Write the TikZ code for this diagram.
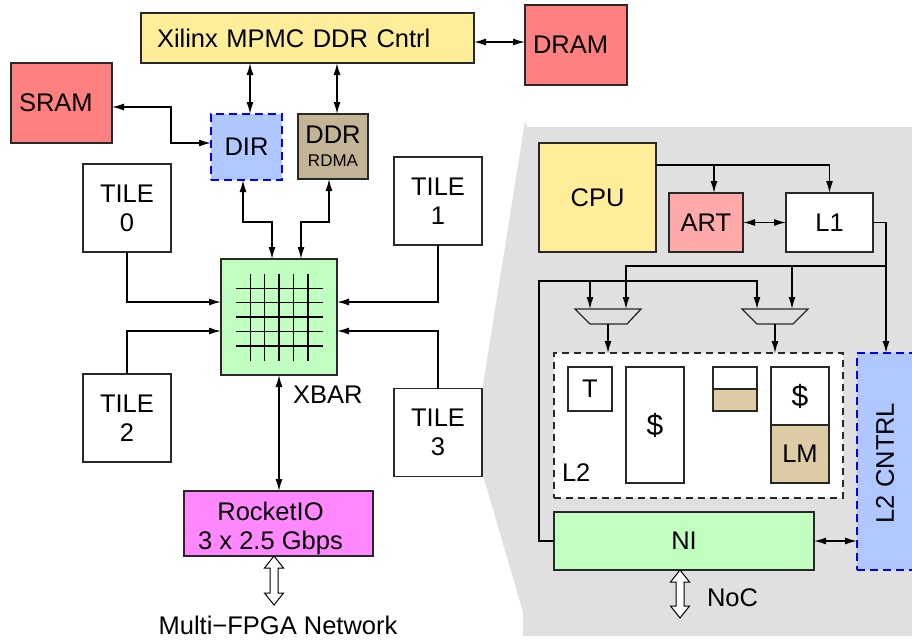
\documentclass[tikz,border=0pt]{standalone}
\usepackage{fontspec}
\setmainfont{Liberation Sans}
\usetikzlibrary{arrows.meta}
\definecolor{xyellow}{RGB}{255,238,153}
\definecolor{xred}{RGB}{255,128,128}
\definecolor{xpink}{RGB}{255,170,170}
\definecolor{xblue}{RGB}{176,200,255}
\definecolor{xtan}{RGB}{196,180,150}
\definecolor{xtanlight}{RGB}{221,203,166}
\definecolor{xgreen}{RGB}{192,255,192}
\definecolor{xmagenta}{RGB}{255,136,255}
\definecolor{xgray}{RGB}{224,224,224}
\definecolor{xline}{RGB}{40,40,40}
\begin{document}
\begin{tikzpicture}[x=1pt,y=-1pt,
  font=\fontsize{25.5}{29}\selectfont,
  blk/.style={draw=xline, line width=1.3pt, inner sep=0pt, outer sep=0pt, align=center},
  wire/.style={line width=1.4pt, draw=black},
  arr/.style={wire, -{Latex[length=12pt,width=7pt]}},
  darr/.style={wire, {Latex[length=12pt,width=7pt]}-{Latex[length=12pt,width=7pt]}},
  dashblue/.style={draw=blue, line width=2.2pt, dash pattern=on 8pt off 5pt},
  dashgray/.style={draw=xline, line width=1.3pt, dash pattern=on 7pt off 5pt},
  hollow/.style={draw=black, line width=1pt, fill=white, line join=miter},
  muxshape/.style={draw=xline, line width=1.3pt, fill=xgray},
  plain/.style={inner sep=0pt, outer sep=0pt},
]
\useasboundingbox (0,0) rectangle (912,641);

% grey tile-detail background
\fill[xgray] (525,121) -- (527,127) -- (915,127) -- (915,636) -- (523,636)
  -- (523,612) -- (482,472) -- (483,385) -- cycle;

% ---------- system level ----------
\node[blk, fill=xyellow, minimum height=50pt, text width=301pt, inner xsep=16pt, align=left]
  (xil) at (307.5,38) {Xilinx MPMC DDR Cntrl};
\node[blk, fill=xred, minimum height=80pt, text width=86pt, inner xsep=8pt, align=left]
  (dram) at (576,45) {DRAM};
\node[blk, fill=xred, minimum height=80pt, text width=85pt, inner xsep=8pt, align=left]
  (sram) at (61.5,103) {SRAM};
\node[blk, fill=xblue, dashblue, minimum width=71pt, minimum height=66pt]
  (dir) at (246.5,147) {DIR};
\node[blk, fill=xtan, minimum width=70pt, minimum height=65pt]
  (ddr) at (333,146.5) {DDR\\[-6pt]{\fontsize{17}{18}\selectfont RDMA}};

\node[blk, fill=xgreen, minimum size=116pt] (xbar) at (279,317) {};
\foreach \d in {-28.8,-14.4,0,14.4,28.8} {
  \draw[wire] ([xshift=\d pt, yshift=43.5pt]xbar.center) -- ([xshift=\d pt, yshift=-43.5pt]xbar.center);
  \draw[wire] ([yshift=\d pt, xshift=-43.5pt]xbar.center) -- ([yshift=\d pt, xshift=43.5pt]xbar.center);
}
\node[plain, anchor=west] (xbarlbl) at (293,395) {XBAR};

\node[blk, fill=white, minimum size=88pt] (tile0) at (127,208) {TILE\\0};
\node[blk, fill=white, minimum size=88pt] (tile1) at (438,201) {TILE\\1};
\node[blk, fill=white, minimum size=88pt] (tile2) at (127,418) {TILE\\2};
\node[blk, fill=white, minimum size=88pt] (tile3) at (438,432.5) {TILE\\3};

\node[blk, fill=xmagenta, minimum width=189pt, minimum height=65pt] (rio) at (278.5,523.5) {};
\node[plain, align=center] (riotext) at ([xshift=-8pt, yshift=-5pt]rio.center) {RocketIO\\3 x 2.5 Gbps};
\node[plain] (mfn) at (278,625.5) {Multi−FPGA Network};

% system level connections
\path ([yshift=-4pt]xil.east) coordinate (xilE);
\draw[darr] (xilE) -- (xilE -| dram.west);
\path ([xshift=3.5pt]dir.north) coordinate (dirN);
\draw[darr] (dirN |- xil.south) -- (dirN);
\path ([xshift=4pt]ddr.north) coordinate (ddrN);
\draw[darr] (ddrN |- xil.south) -- (ddrN);
\draw[darr] ([yshift=-4pt]sram.east) -- ++(59,0) |- ([yshift=4pt]dir.west);
\draw[darr] ([xshift=-3.5pt]dir.south) -- ++(0,42) -| ([xshift=-7pt]xbar.north);
\draw[darr] ([xshift=-4pt]ddr.south) -- ++(0,43) -| ([xshift=22pt]xbar.north);
\draw[arr] (tile0.south) |- ([yshift=15pt]xbar.west);
\draw[arr] (tile1.south) |- ([yshift=15pt]xbar.east);
\draw[arr] (tile2.north) |- ([yshift=-14pt]xbar.west);
\draw[arr] (tile3.north) |- ([yshift=-14pt]xbar.east);
\draw[darr] (xbar.south) -- (xbar.south |- rio.north);
\path ([xshift=-4.5pt]rio.south) coordinate (mfTop);
\draw[hollow] (mfTop) -- ++(9.5,12) -- ++(-5.5,0) -- ++(0,25) -- ++(5.5,0) -- ++(-9.5,12)
  -- ++(-9.5,-12) -- ++(5.5,0) -- ++(0,-25) -- ++(-5.5,0) -- cycle;

% ---------- tile detail ----------
\node[blk, fill=xyellow, minimum width=117pt, minimum height=109pt] (cpu) at (597.5,197.5) {CPU};
\node[blk, fill=xpink, minimum width=74pt, minimum height=59pt] (art) at (706,222.5) {ART};
\node[blk, fill=white, minimum width=87pt, minimum height=59pt] (l1) at (829.5,222.5) {L1};

\node[plain, fill=white, dashgray, minimum width=289pt, minimum height=145pt] (l2) at (698.5,425.5) {};
\node[plain, anchor=west] (l2lbl) at (562,473) {L2};
\node[blk, fill=white, minimum size=44pt] (tbox) at (590,389) {T};
\node[blk, fill=white, minimum width=58pt, minimum height=116pt, font=\fontsize{30}{34}\selectfont]
  (cacheA) at (655,425) {\$};
\node[blk, fill=white, minimum size=44pt] (buf) at (735,389) {};
\draw[draw=xline, line width=1.3pt, fill=xtanlight] (buf.west) rectangle (buf.south east);
\node[blk, fill=white, minimum width=58pt, minimum height=58pt, font=\fontsize{30}{34}\selectfont]
  (cacheB) at (800,396) {\$};
\node[blk, fill=xtanlight, minimum width=58pt, minimum height=58pt] (lm) at (800,454) {LM};

\node[blk, fill=xgreen, minimum width=260pt, minimum height=58pt] (ni) at (684,541) {NI};
\node[plain, fill=xblue, dashblue, minimum width=58pt, minimum height=217pt] (l2c) at (886,461.5) {};
\node[plain, rotate=90] (l2ctext) at (885,463) {L2 CNTRL};
\node[plain, anchor=west] (noc) at (707,598) {NoC};

% multiplexers
\draw[muxshape] (575,309) -- (641,309) -- (627,324) -- (590,324) -- cycle;
\draw[muxshape] (742,309) -- (808,309) -- (793,324) -- (757,324) -- cycle;
\coordinate (m1a) at (590,309);
\coordinate (m1b) at (626,309);
\coordinate (m1o) at (608,324);
\coordinate (m2a) at (757,309);
\coordinate (m2b) at (792,309);
\coordinate (m2o) at (775,324);

% tile detail connections
\draw[arr] ([yshift=32.5pt]cpu.east) -| (l1.north);
\coordinate (tapC) at (714,165);
\draw[arr] (tapC) -- (tapC |- art.north);
\draw[darr] (art.east) -- (l1.west);
\draw[arr] (l1.east) -| (l2c.north);
\path (l2c.north) ++(0,-87) coordinate (tapA);
\draw[arr] (tapA) -| (m1b);
\draw[arr] (m2b |- tapA) -- (m2b);
\coordinate (tapB) at (539,281);
\draw[arr] (ni.west) -| (tapB) -| (m2a);
\draw[arr] (m1a |- tapB) -- (m1a);
\draw[arr] (m1o) -- (m1o |- l2.north);
\draw[arr] (m2o) -- (m2o |- l2.north);
\draw[darr] (ni.east) -- (ni.east -| l2c.west);
\path ([xshift=-4pt]ni.south) coordinate (nocTop);
\draw[hollow] (nocTop) -- ++(9.5,12) -- ++(-5.5,0) -- ++(0,24) -- ++(5.5,0) -- ++(-9.5,12)
  -- ++(-9.5,-12) -- ++(5.5,0) -- ++(0,-24) -- ++(-5.5,0) -- cycle;
\end{tikzpicture}
\end{document}
